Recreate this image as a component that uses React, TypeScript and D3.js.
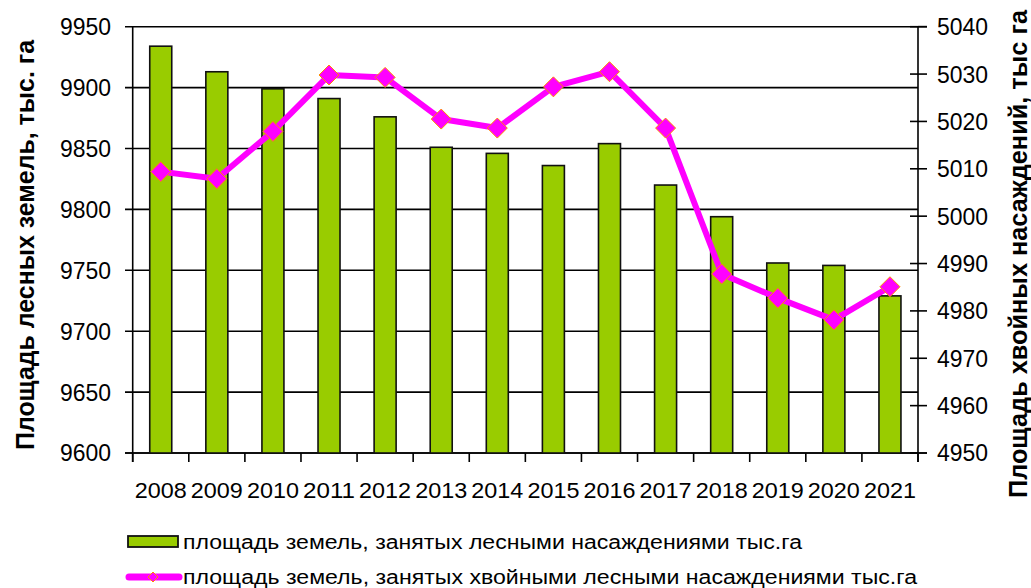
import React from "react";
import * as d3 from "d3";

const years = ["2008", "2009", "2010", "2011", "2012", "2013", "2014", "2015", "2016", "2017", "2018", "2019", "2020", "2021"];
const forestArea = [9934, 9913, 9899, 9891, 9876, 9851, 9846, 9836, 9854, 9820, 9794, 9756, 9754, 9729];
const coniferArea = [5009.4, 5007.9, 5017.9, 5029.8, 5029.3, 5020.5, 5018.6, 5027.3, 5030.5, 5018.6, 4987.8, 4982.7, 4978.1, 4985.1];
const leftTicks = [9600, 9650, 9700, 9750, 9800, 9850, 9900, 9950];
const rightTicks = [4950, 4960, 4970, 4980, 4990, 5000, 5010, 5020, 5030, 5040];
const leftTitle = "Площадь лесных земель, тыс. га";
const rightTitle = "Площадь хвойных насаждений, тыс га";
const legendBars = "площадь земель, занятых лесными насаждениями тыс.га";
const legendLine = "площадь земель, занятых хвойными лесными насаждениями тыс.га";

const FONT = "'Liberation Sans', Arial, sans-serif";

export default function App() {
  const width = 1031;
  const height = 588;
  const left = 132.7, right = 918, top = 26.7, bottom = 453;

  const x = d3.scaleBand().domain(years).range([left, right]).paddingInner(0).paddingOuter(0);
  const yL = d3.scaleLinear().domain([9600, 9950]).range([bottom, top]);
  const yR = d3.scaleLinear().domain([4950, 5040]).range([bottom, top]);
  const barW = 22;

  const line = d3.line<number>()
    .x((_, i) => (x(years[i]) as number) + x.bandwidth() / 2)
    .y((d) => yR(d));

  const diamond = (cx: number, cy: number, r: number) =>
    `M${cx},${cy - r}L${cx + r},${cy}L${cx},${cy + r}L${cx - r},${cy}Z`;

  const boundaries = d3.range(years.length + 1).map((i) => left + i * x.bandwidth());

  return (
    <svg width={width} height={height} style={{ position: "absolute", left: 0, top: 0 }}>
      <rect width={width} height={height} fill="#fff" />
      {/* grid + left ticks */}
      {leftTicks.map((t) => (
        <g key={t}>
          <line x1={125} x2={right} y1={yL(t)} y2={yL(t)} stroke="#000" strokeWidth={1.6} />
          <text x={111} y={yL(t)} dy="0.36em" textAnchor="end" fontFamily={FONT} fontSize={23.5}
            textLength={51} lengthAdjust="spacingAndGlyphs" fill="#000">{t}</text>
        </g>
      ))}
      {/* right ticks */}
      {rightTicks.map((t) => (
        <g key={t}>
          <line x1={910} x2={927} y1={yR(t)} y2={yR(t)} stroke="#000" strokeWidth={1.6} />
          <text x={937} y={yR(t)} dy="0.36em" textAnchor="start" fontFamily={FONT} fontSize={23.5}
            textLength={51} lengthAdjust="spacingAndGlyphs" fill="#000">{t}</text>
        </g>
      ))}
      <line x1={right} x2={927} y1={top} y2={top} stroke="#000" strokeWidth={1.6} />
      {/* axes */}
      <line x1={left} x2={left} y1={top} y2={462} stroke="#000" strokeWidth={1.6} />
      <line x1={right} x2={right} y1={top} y2={462} stroke="#000" strokeWidth={1.6} />
      <line x1={125} x2={927} y1={bottom} y2={bottom} stroke="#000" strokeWidth={1.6} />
      {boundaries.map((b, i) => (
        <line key={i} x1={b} x2={b} y1={bottom} y2={462} stroke="#000" strokeWidth={1.6} />
      ))}
      {/* bars */}
      {forestArea.map((v, i) => {
        const cx = (x(years[i]) as number) + x.bandwidth() / 2;
        return (
          <rect key={i} x={cx - barW / 2} y={yL(v)} width={barW} height={bottom - yL(v)}
            fill="#99CC00" stroke="#111" strokeWidth={1.6} />
        );
      })}
      {/* line */}
      <path d={line(coniferArea) || ""} fill="none" stroke="#FF00FF" strokeWidth={6} strokeLinejoin="round" />
      {coniferArea.map((v, i) => {
        const cx = (x(years[i]) as number) + x.bandwidth() / 2;
        return <path key={i} d={diamond(cx, yR(v), 10)} fill="#FF00FF" stroke="#FF8C00" strokeWidth={1} />;
      })}
      {/* year labels */}
      {years.map((yr) => (
        <text key={yr} x={(x(yr) as number) + x.bandwidth() / 2} y={490} dy="0.36em" textAnchor="middle"
          fontFamily={FONT} fontSize={22} textLength={52} lengthAdjust="spacingAndGlyphs" fill="#000">{yr}</text>
      ))}
      {/* axis titles */}
      <text transform={`translate(34,245) rotate(-90)`} textAnchor="middle" fontFamily={FONT} fontWeight="bold"
        fontSize={25} textLength={410} lengthAdjust="spacingAndGlyphs" fill="#000">{leftTitle}</text>
      <text transform={`translate(1027,254) rotate(-90)`} textAnchor="middle" fontFamily={FONT} fontWeight="bold"
        fontSize={25} textLength={488} lengthAdjust="spacingAndGlyphs" fill="#000">{rightTitle}</text>
      {/* legend */}
      <rect x={128} y={536} width={50} height={11} fill="#99CC00" stroke="#111" strokeWidth={1.8} />
      <text x={183} y={542} dy="0.36em" fontFamily={FONT} fontSize={20} textLength={619} lengthAdjust="spacingAndGlyphs" fill="#000">{legendBars}</text>
      <line x1={129} x2={179} y1={577} y2={577} stroke="#FF00FF" strokeWidth={7} strokeLinecap="round" />
      <path d={diamond(153, 577, 5)} fill="#FF00FF" stroke="#FF8C00" strokeWidth={1} />
      <text x={183} y={577} dy="0.36em" fontFamily={FONT} fontSize={20} textLength={734} lengthAdjust="spacingAndGlyphs" fill="#000">{legendLine}</text>
    </svg>
  );
}
